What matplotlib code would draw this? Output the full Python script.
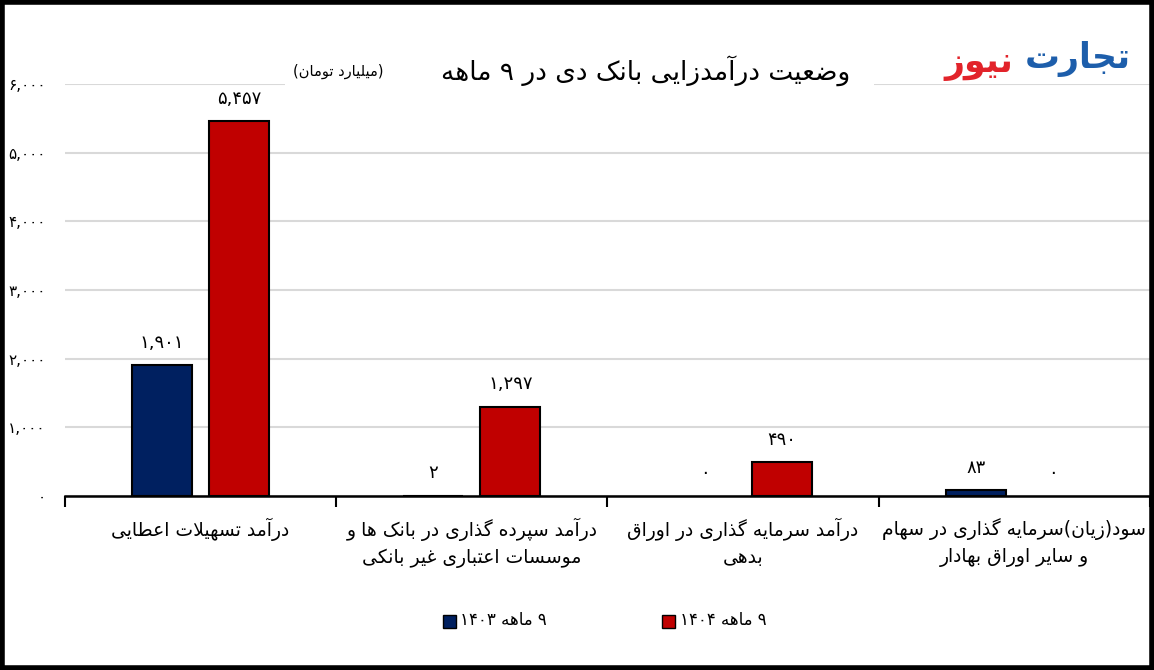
import re
import numpy as np
import matplotlib
matplotlib.use("Agg")
import matplotlib.pyplot as plt
from matplotlib.patches import Rectangle

#
# data (billion toman)
#

categories = [
    "درآمد تسهیلات اعطایی",
    "درآمد سپرده گذاری در بانک ها و\nموسسات اعتباری غیر بانکی",
    "درآمد سرمایه گذاری در اوراق\nبدهی",
    "سود(زیان)سرمایه گذاری در سهام\nو سایر اوراق بهادار",
]
values_1403 = [1901, 2, 0, 83]
values_1404 = [5457, 1297, 490, 0]
series_names = ["۹ ماهه ۱۴۰۳", "۹ ماهه ۱۴۰۴"]
yticks = [0, 1000, 2000, 3000, 4000, 5000, 6000]

title = "وضعیت درآمدزایی بانک دی در ۹ ماهه"
unit = "(میلیارد تومان)"

#
# matplotlib has no arabic shaping, so do a small one by hand:
# pick presentation forms and put the string in visual order
#

FORMS = {
    'ا': (0xFE8D, 0xFE8E), 'آ': (0xFE81, 0xFE82), 'د': (0xFEA9, 0xFEAA),
    'ذ': (0xFEAB, 0xFEAC), 'ر': (0xFEAD, 0xFEAE), 'ز': (0xFEAF, 0xFEB0),
    'ژ': (0xFB8A, 0xFB8B), 'و': (0xFEED, 0xFEEE),
    'ب': (0xFE8F, 0xFE90, 0xFE91, 0xFE92), 'پ': (0xFB56, 0xFB57, 0xFB58, 0xFB59),
    'ت': (0xFE95, 0xFE96, 0xFE97, 0xFE98), 'ث': (0xFE99, 0xFE9A, 0xFE9B, 0xFE9C),
    'ج': (0xFE9D, 0xFE9E, 0xFE9F, 0xFEA0), 'چ': (0xFB7A, 0xFB7B, 0xFB7C, 0xFB7D),
    'ح': (0xFEA1, 0xFEA2, 0xFEA3, 0xFEA4), 'خ': (0xFEA5, 0xFEA6, 0xFEA7, 0xFEA8),
    'س': (0xFEB1, 0xFEB2, 0xFEB3, 0xFEB4), 'ش': (0xFEB5, 0xFEB6, 0xFEB7, 0xFEB8),
    'ص': (0xFEB9, 0xFEBA, 0xFEBB, 0xFEBC), 'ض': (0xFEBD, 0xFEBE, 0xFEBF, 0xFEC0),
    'ط': (0xFEC1, 0xFEC2, 0xFEC3, 0xFEC4), 'ظ': (0xFEC5, 0xFEC6, 0xFEC7, 0xFEC8),
    'ع': (0xFEC9, 0xFECA, 0xFECB, 0xFECC), 'غ': (0xFECD, 0xFECE, 0xFECF, 0xFED0),
    'ف': (0xFED1, 0xFED2, 0xFED3, 0xFED4), 'ق': (0xFED5, 0xFED6, 0xFED7, 0xFED8),
    'ک': (0xFB8E, 0xFB8F, 0xFB90, 0xFB91), 'گ': (0xFB92, 0xFB93, 0xFB94, 0xFB95),
    'ل': (0xFEDD, 0xFEDE, 0xFEDF, 0xFEE0), 'م': (0xFEE1, 0xFEE2, 0xFEE3, 0xFEE4),
    'ن': (0xFEE5, 0xFEE6, 0xFEE7, 0xFEE8), 'ه': (0xFEE9, 0xFEEA, 0xFEEB, 0xFEEC),
    'ی': (0xFBFC, 0xFBFD, 0xFBFE, 0xFBFF),
}
DUAL = set(k for k, v in FORMS.items() if len(v) == 4)


def shape(s):
    out = []
    i = 0
    while i < len(s):
        c = s[i]
        prev = s[i - 1] if i > 0 else ''
        nxt = s[i + 1] if i + 1 < len(s) else ''
        jp = prev in DUAL
        if c == 'ل' and nxt == 'ا':
            out.append(chr(0xFEFC if jp else 0xFEFB))
            i += 2
            continue
        if c in FORMS:
            f = FORMS[c]
            jn = c in DUAL and nxt in FORMS
            if jp and jn:
                out.append(chr(f[3]))
            elif jp:
                out.append(chr(f[1]))
            elif jn:
                out.append(chr(f[2]))
            else:
                out.append(chr(f[0]))
        else:
            out.append(c)
        i += 1
    return ''.join(out)


def rtl(s):
    lines = []
    for line in s.split('\n'):
        line = shape(line)
        runs = re.findall(r'[0-9۰-۹,]+|[^0-9۰-۹,]+', line)
        vis = ''
        for r in reversed(runs):
            if re.match(r'[0-9۰-۹,]', r):
                vis += r
            else:
                vis += r[::-1].translate(str.maketrans('()', ')('))
        lines.append(vis)
    return '\n'.join(lines)


def fa_num(v):
    return f"{v:,}".translate(str.maketrans('0123456789', '۰۱۲۳۴۵۶۷۸۹'))


plt.rcParams['font.family'] = ['DejaVu Sans']

fig = plt.figure(figsize=(11.54, 6.70), dpi=100)
ax = fig.add_axes([0.0563, 0.2597, 0.9402, 0.6149])

x = np.arange(len(categories))
w = 0.221
off = 0.142
blue = '#002060'
red = '#C00000'

b1 = ax.bar(x - off, values_1403, w, color=blue, edgecolor='black', linewidth=1.5, zorder=3)
b2 = ax.bar(x + off, values_1404, w, color=red, edgecolor='black', linewidth=1.5, zorder=3)

for bars, vals in ((b1, values_1403), (b2, values_1404)):
    for rect, v in zip(bars, vals):
        if v == 0:
            rect.set_linewidth(0)
        ax.text(rect.get_x() + rect.get_width() / 2, v + 200, fa_num(v),
                ha='center', va='bottom', fontsize=13, zorder=4)

ax.set_xlim(-0.5, len(categories) - 0.5)
ax.set_ylim(0, 6000)
ax.set_yticks(yticks)
ax.set_yticklabels([fa_num(t) for t in yticks], fontsize=11)
ax.tick_params(axis='y', length=0, pad=14)
ax.grid(axis='y', color='#d9d9d9', linewidth=1.5, zorder=0)

# category boundaries get the tick marks
ax.set_xticks(np.arange(len(categories) + 1) - 0.5)
ax.set_xticklabels([])
ax.tick_params(axis='x', length=8, width=1.5, color='black')
for i, c in enumerate(categories):
    ax.text(i, -320, rtl(c), ha='center', va='top', fontsize=13.5, linespacing=1.45)

for s in ('top', 'right', 'left'):
    ax.spines[s].set_visible(False)
ax.spines['bottom'].set_linewidth(1.8)

# title sits in a white box over the top gridline
fig.text(0.737, 0.895, rtl(title), ha='right', va='center', fontsize=19)
fig.text(0.254, 0.893, rtl(unit), ha='left', va='center', fontsize=10.5)
fig.patches.append(Rectangle((0.247, 0.86), 0.51, 0.07, transform=fig.transFigure,
                             facecolor='white', edgecolor='none', zorder=0.5))

# logo
fig.text(0.98, 0.912, rtl("تجارت"), ha='right', va='center', fontsize=25,
         fontweight='bold', color='#1d5eab')
fig.text(0.878, 0.905, rtl("نیوز"), ha='right', va='center', fontsize=25,
         fontweight='bold', color='#e2232a')

# legend
for xs, col, name in ((0.384, blue, series_names[0]), (0.574, red, series_names[1])):
    fig.patches.append(Rectangle((xs, 0.063), 0.011, 0.019, transform=fig.transFigure,
                                 facecolor=col, edgecolor='black', linewidth=1))
    fig.text(xs + 0.015, 0.074, rtl(name), ha='left', va='center', fontsize=12)

# frame round the whole picture
fig.patches.append(Rectangle((0.002, 0.003), 0.996, 0.994, transform=fig.transFigure,
                             facecolor='none', edgecolor='black', linewidth=4))

fig.savefig("out.png", dpi=100)
